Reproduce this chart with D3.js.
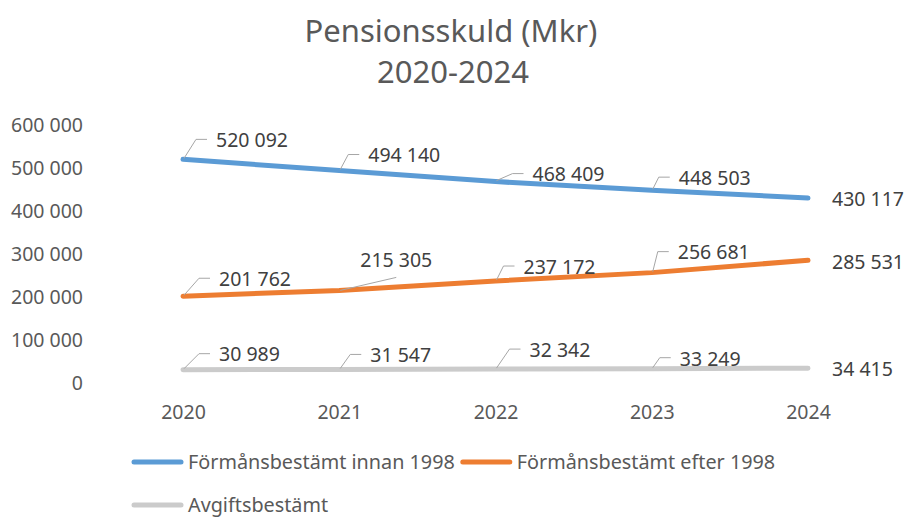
<!DOCTYPE html>
<html>
<head>
<meta charset="utf-8">
<script src="https://cdn.jsdelivr.net/npm/d3@7"></script>
<style>
  html, body { margin: 0; padding: 0; background: #fff; }
  svg { display: block; font-family: "Noto Sans", "Open Sans", sans-serif; }
</style>
</head>
<body>
<div id="chart"></div>
<script>
// Pensionsskuld (Mkr) 2020-2024
const years = ['2020', '2021', '2022', '2023', '2024'];
const seriesNames = ['Förmånsbestämt innan 1998', 'Förmånsbestämt efter 1998', 'Avgiftsbestämt'];
const innan1998 = [520092, 494140, 468409, 448503, 430117];
const efter1998 = [201762, 215305, 237172, 256681, 285531];
const avgift = [30989, 31547, 32342, 33249, 34415];
const yTicks = [0, 100000, 200000, 300000, 400000, 500000, 600000];

// label placement relative to the point: [dx, dy, leader type]
const labelOffsets = [
  [[33, -19, 'elbow'], [29, -15, 'elbow'], [37, -7, 'elbow'], [27, -12, 'elbow'], [24, 1, 'none']],
  [[36, -17, 'elbow'], [21, -30, 'diag'], [28, -14, 'elbow'], [26, -20, 'elbow'], [24, 2, 'none']],
  [[36, -15, 'elbow'], [31, -14, 'elbow'], [34, -19, 'elbow'], [28, -10, 'elbow'], [24, 1, 'none']]
];
const colors = ['#5B9BD5', '#ED7D31', '#CBCBCB'];

const width = 906, height = 518;
const fmt = v => d3.format(',')(v).replace(/,/g, ' ');

const svg = d3.select('#chart').append('svg')
  .attr('width', width)
  .attr('height', height);

// Title
svg.append('text')
  .attr('x', 451).attr('y', 42)
  .attr('text-anchor', 'middle')
  .attr('font-size', 31)
  .attr('fill', '#595959')
  .text('Pensionsskuld (Mkr)');
svg.append('text')
  .attr('x', 453).attr('y', 83)
  .attr('text-anchor', 'middle')
  .attr('font-size', 31)
  .attr('fill', '#595959')
  .text('2020-2024');

const x = d3.scalePoint().domain(years).range([183, 808]);
const y = d3.scaleLinear().domain([0, 600000]).range([383, 125]);

// Axes (no lines, labels only)
const yAxis = svg.append('g')
  .attr('transform', 'translate(83,0)')
  .call(d3.axisLeft(y).tickValues(yTicks).tickSize(0).tickPadding(0).tickFormat(fmt));
const xAxis = svg.append('g')
  .attr('transform', 'translate(0,383)')
  .call(d3.axisBottom(x).tickSize(0).tickPadding(22));
[yAxis, xAxis].forEach(g => {
  g.attr('font-family', null);
  g.select('.domain').remove();
  g.selectAll('text')
    .attr('font-size', 19.5)
    .attr('fill', '#595959');
});

const series = [innan1998, efter1998, avgift];
const line = d3.line().x((d, i) => x(years[i])).y(d => y(d));

// Lines
series.forEach((vals, s) => {
  svg.append('path')
    .datum(vals)
    .attr('d', line)
    .attr('fill', 'none')
    .attr('stroke', colors[s])
    .attr('stroke-width', 5)
    .attr('stroke-linecap', 'round')
    .attr('stroke-linejoin', 'round');
});

// Data labels with leader lines
series.forEach((vals, s) => {
  vals.forEach((v, i) => {
    const px = x(years[i]), py = y(v);
    const [dx, dy, kind] = labelOffsets[s][i];
    const lx = px + dx, ly = py + dy;
    if (kind === 'elbow') {
      svg.append('path')
        .attr('d', `M${px + 1},${py - 1}L${lx - 20},${ly - 1}L${lx - 9},${ly - 1}`)
        .attr('fill', 'none')
        .attr('stroke', '#A6A6A6')
        .attr('stroke-width', 1);
    } else if (kind === 'diag') {
      svg.append('line')
        .attr('x1', px + 1).attr('y1', py)
        .attr('x2', lx + 36).attr('y2', ly + 17)
        .attr('stroke', '#A6A6A6')
        .attr('stroke-width', 1);
    }
    svg.append('text')
      .attr('x', lx).attr('y', ly)
      .attr('dy', '0.35em')
      .attr('font-size', 19.5)
      .attr('fill', '#404040')
      .text(fmt(v));
  });
});

// Legend
const legendRows = [[0, 132, 462], [1, null, 462], [2, 132, 505]];
let nextX = 132;
legendRows.forEach(([s, lx, ly]) => {
  const sx = lx === null ? nextX : lx;
  svg.append('line')
    .attr('x1', sx + 2).attr('x2', sx + 49)
    .attr('y1', ly).attr('y2', ly)
    .attr('stroke', colors[s])
    .attr('stroke-width', 5)
    .attr('stroke-linecap', 'round');
  const t = svg.append('text')
    .attr('x', sx + 56).attr('y', ly)
    .attr('dy', '0.35em')
    .attr('font-size', 19.8)
    .attr('fill', '#595959')
    .text(seriesNames[s]);
  nextX = sx + 56 + t.node().getComputedTextLength() + 6;
});
</script>
</body>
</html>
